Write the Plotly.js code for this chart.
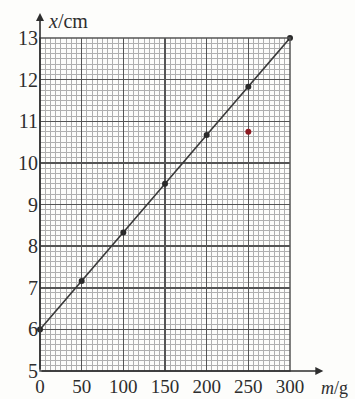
<!DOCTYPE html>
<html>
<head>
<meta charset="utf-8">
<script src="https://cdn.plot.ly/plotly-3.0.1.min.js"></script>
<style>
  html, body { margin: 0; padding: 0; background: #fdfdfb; }
  #chart { width: 355px; height: 399px; }
</style>
</head>
<body>
<div id="chart"></div>
<script>
// measured points: spring length x (cm) against hanging mass m (g)
const massG = [0, 50, 100, 150, 200, 250, 300];
const lengthCm = [6.0, 7.16, 8.33, 9.5, 10.67, 11.83, 13.0];

// the stray red point below the line
const strayMassG = [250];
const strayLengthCm = [10.75];

const xTicks = [0, 50, 100, 150, 200, 250, 300];
const yTicks = [5, 6, 7, 8, 9, 10, 11, 12, 13];

const INK = '#2e2e2e';
const SERIF = '"Liberation Serif", "DejaVu Serif", serif';

const lineTrace = {
    type: 'scatter',
    mode: 'lines+markers',
    x: massG,
    y: lengthCm,
    line: { color: '#3a3a3a', width: 1.6 },
    marker: { size: 6, color: '#2a2a2a' },
    cliponaxis: false,
    hoverinfo: 'x+y'
};

const strayTrace = {
    type: 'scatter',
    mode: 'markers',
    x: strayMassG,
    y: strayLengthCm,
    marker: { size: 6, color: '#8e1c22' },
    cliponaxis: false,
    hoverinfo: 'x+y'
};

const layout = {
    width: 355,
    height: 399,
    margin: { l: 40, r: 65, t: 38, b: 28 },
    paper_bgcolor: '#fdfdfb',
    plot_bgcolor: '#fdfdfb',
    showlegend: false,
    font: { family: SERIF, size: 20, color: INK },
    xaxis: {
        range: [0, 300],
        tickvals: xTicks,
        ticktext: xTicks.map(String),
        ticks: '',
        ticklabelstandoff: 2,
        showgrid: true,
        gridcolor: '#555555',
        gridwidth: 1.5,
        zeroline: false,
        showline: false,
        tickfont: { family: SERIF, size: 19, color: INK },
        minor: { dtick: 6.25, showgrid: true, gridcolor: '#b0b0b0', gridwidth: 1 }
    },
    yaxis: {
        range: [5, 13],
        tickvals: yTicks,
        ticktext: yTicks.map(String),
        ticks: '',
        ticklabelstandoff: 1,
        showgrid: true,
        gridcolor: '#555555',
        gridwidth: 1.5,
        zeroline: false,
        showline: false,
        tickfont: { family: SERIF, size: 20, color: INK },
        minor: { dtick: 0.125, showgrid: true, gridcolor: '#b0b0b0', gridwidth: 1 }
    },
    shapes: [
        // frame on the right and top edges
        { type: 'rect', xref: 'paper', yref: 'paper', x0: 0, y0: 0, x1: 1, y1: 1,
          line: { color: '#555555', width: 1.5 }, layer: 'above' }
    ],
    annotations: [
        // y axis with arrow
        { x: 0, y: 13.6, xref: 'x', yref: 'y', ax: 0, ay: 5, axref: 'x', ayref: 'y',
          showarrow: true, arrowhead: 2, arrowsize: 1, arrowwidth: 1.6, arrowcolor: INK, text: '' },
        // x axis with arrow
        { x: 340, y: 5, xref: 'x', yref: 'y', ax: 0, ay: 5, axref: 'x', ayref: 'y',
          showarrow: true, arrowhead: 2, arrowsize: 1, arrowwidth: 1.6, arrowcolor: INK, text: '' },
        { x: 46, y: 21, xref: 'pixel', yref: 'pixel', text: '<i>x</i>/cm', showarrow: false,
          xanchor: 'left', yanchor: 'middle', font: { family: SERIF, size: 20, color: INK } },
        { x: 319, y: 388, xref: 'pixel', yref: 'pixel', text: '<i>m</i>/g', showarrow: false,
          xanchor: 'left', yanchor: 'middle', font: { family: SERIF, size: 18, color: INK } }
    ]
};

// pixel positions for the two axis names, turned into paper fractions
const plotW = layout.width - layout.margin.l - layout.margin.r;
const plotH = layout.height - layout.margin.t - layout.margin.b;
layout.annotations.forEach(a => {
    if (a.xref === 'pixel') {
        a.xref = 'paper';
        a.yref = 'paper';
        a.x = (a.x - layout.margin.l) / plotW;
        a.y = (layout.height - layout.margin.b - a.y) / plotH;
    }
});

Plotly.newPlot('chart', [lineTrace, strayTrace], layout, { displayModeBar: false, staticPlot: true });
</script>
</body>
</html>
